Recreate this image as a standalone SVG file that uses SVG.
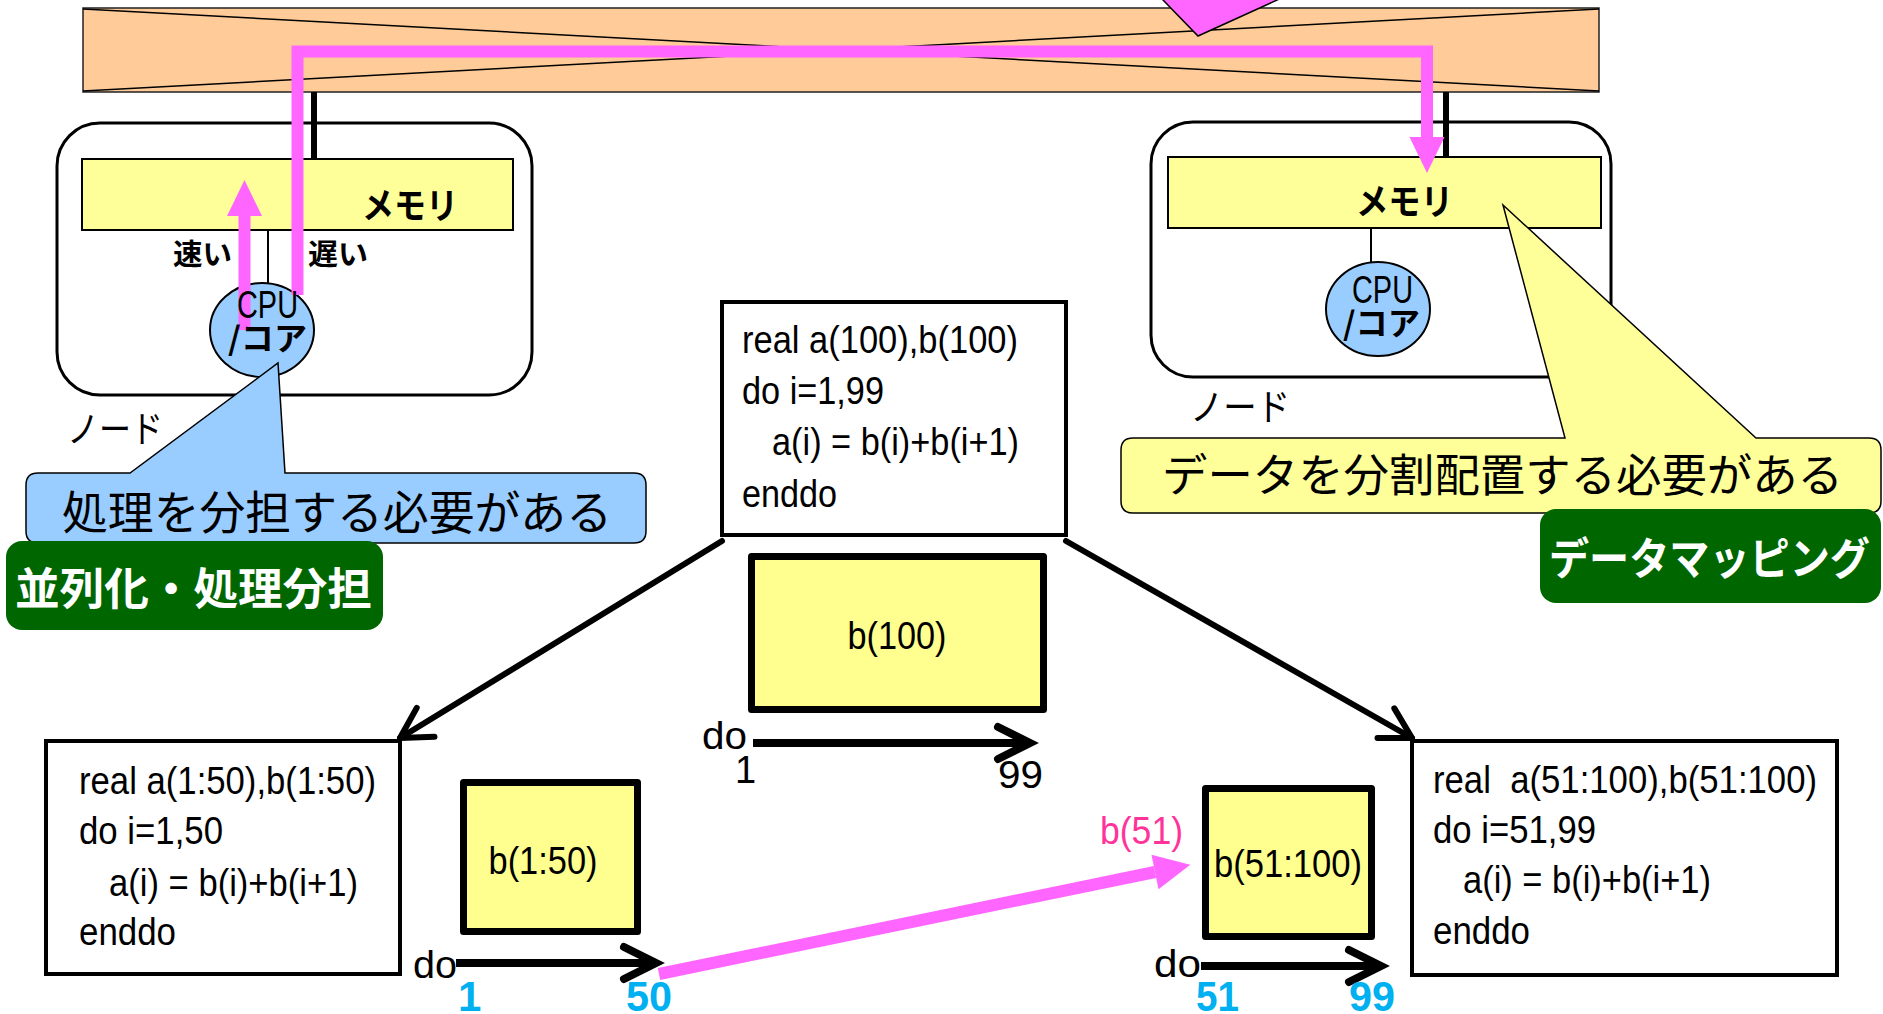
<svg xmlns="http://www.w3.org/2000/svg" width="1883" height="1014" viewBox="0 0 1883 1014">
  <style>
    .jp { font-family: "Noto Sans CJK JP", "Noto Sans", sans-serif; fill: #000; }
    .jpb { font-family: "Noto Sans CJK JP", "Noto Sans", sans-serif; font-weight: bold; fill: #000; }
    .code { font-family: "Liberation Sans", Arial, sans-serif; font-size: 38px; fill: #000; white-space: pre; }
    .num { font-family: "Liberation Sans", Arial, sans-serif; font-size: 42px; font-weight: bold; fill: #00B0F0; }
    .node { fill: #fff; stroke: #000; stroke-width: 3; }
    .mem { fill: #FFFF99; stroke: #000; stroke-width: 2; }
    .cpu { fill: #99CCFF; stroke: #000; stroke-width: 2; }
    .codebox { fill: #fff; stroke: #000; stroke-width: 4; }
    .arr { fill: #FFFF8F; stroke: #000; stroke-width: 7; stroke-linejoin: round; }
    .pink { fill: none; stroke: #FF66FF; stroke-width: 12; }
    .conn { fill: none; stroke: #000; stroke-width: 6; stroke-linecap: round; }
    .doline { fill: none; stroke: #000; stroke-width: 8; }
    .tag { fill: #006600; }
    .tagtext { font-family: "Noto Sans CJK JP", sans-serif; font-weight: bold; fill: #fff; }
  </style>
  <defs>
    <marker id="chev" markerUnits="userSpaceOnUse" orient="auto" refX="0" refY="0" markerWidth="60" markerHeight="60" viewBox="-40 -30 50 60" overflow="visible">
      <path d="M-30,-17 L0,0 L-30,17" fill="none" stroke="#000" stroke-width="6" stroke-linecap="round" stroke-linejoin="round"/>
    </marker>
    <marker id="chevDo" markerUnits="userSpaceOnUse" orient="auto" refX="0" refY="0" markerWidth="60" markerHeight="60" viewBox="-40 -30 50 60" overflow="visible">
      <path d="M-32,-16 L0,0 L-32,16" fill="none" stroke="#000" stroke-width="8" stroke-linecap="round" stroke-linejoin="miter"/>
    </marker>
    <marker id="pinkHead" markerUnits="userSpaceOnUse" orient="auto" refX="0" refY="0" markerWidth="60" markerHeight="60" viewBox="-5 -30 50 60" overflow="visible">
      <path d="M0,-17.5 L36,0 L0,17.5 Z" fill="#FF66FF"/>
    </marker>
  </defs>

  <!-- interconnect bar -->
  <g id="network">
    <rect x="83" y="8" width="1516" height="84" fill="#FFCC99" stroke="#222" stroke-width="1.5"/>
    <line x1="83" y1="9" x2="1599" y2="91" stroke="#000" stroke-width="1.5"/>
    <line x1="83" y1="91" x2="1599" y2="9" stroke="#000" stroke-width="1.5"/>
    <polygon points="1143.6,-20 1198,36 1321,-20" fill="#FF66FF" stroke="#000" stroke-width="1.5"/>
  </g>

  <!-- left node -->
  <g id="node-left">
    <rect class="node" x="57" y="123" width="475" height="272" rx="43"/>
    <rect class="mem" x="82" y="159" width="431" height="71"/>
    <text class="jpb" x="362" y="219" font-size="36" textLength="96" lengthAdjust="spacingAndGlyphs">メモリ</text>
    <line x1="268" y1="230" x2="268" y2="284" stroke="#000" stroke-width="2"/>
    <ellipse class="cpu" cx="262" cy="330" rx="52" ry="47"/>
    <text class="jpb" x="173" y="265" font-size="29" textLength="59" lengthAdjust="spacingAndGlyphs">速い</text>
    <text class="jpb" x="308" y="265" font-size="29" textLength="60" lengthAdjust="spacingAndGlyphs">遅い</text>
    <text class="jp" x="67" y="443" font-size="37" textLength="96" lengthAdjust="spacingAndGlyphs">ノード</text>
  </g>

  <!-- right node -->
  <g id="node-right">
    <rect class="node" x="1151" y="122" width="460" height="255" rx="42"/>
    <rect class="mem" x="1168" y="157" width="433" height="71"/>
    <text class="jpb" x="1356" y="215" font-size="36" textLength="97" lengthAdjust="spacingAndGlyphs">メモリ</text>
    <line x1="1371" y1="228" x2="1371" y2="263" stroke="#000" stroke-width="2"/>
    <ellipse class="cpu" cx="1378" cy="309" rx="52" ry="47"/>
    <text class="code" x="1352" y="303" font-size="34" textLength="61" lengthAdjust="spacingAndGlyphs">CPU</text>
    <text class="jpb" x="1343" y="335" font-size="32" textLength="77" lengthAdjust="spacingAndGlyphs">/コア</text>
    <text class="jp" x="1190" y="421" font-size="37" textLength="100" lengthAdjust="spacingAndGlyphs">ノード</text>
  </g>

  <!-- links: bar to memories, memory access paths, program split -->
  <g id="connectors">
    <line x1="314" y1="92" x2="314" y2="159" stroke="#000" stroke-width="6"/>
    <line x1="1446" y1="92" x2="1446" y2="157" stroke="#000" stroke-width="6"/>
    <path class="pink" d="M244.5,330 V216" marker-end="url(#pinkHead)"/>
    <path class="pink" d="M297.5,295 V51.5 H1427 V137" marker-end="url(#pinkHead)"/>
    <line class="conn" x1="722" y1="541" x2="400" y2="738" marker-end="url(#chev)"/>
    <line class="conn" x1="1066" y1="541" x2="1412" y2="738" marker-end="url(#chev)"/>
    <path class="pink" d="M659,974 L1155,872" marker-end="url(#pinkHead)"/>
  </g>

  <!-- CPU label on the left core, drawn above the access arrows -->
  <g id="cpu-left-label">
    <text class="code" x="237" y="318" font-size="34" textLength="61" lengthAdjust="spacingAndGlyphs">CPU</text>
    <text class="jpb" x="228" y="350" font-size="32" textLength="79" lengthAdjust="spacingAndGlyphs">/コア</text>
  </g>

  <!-- callouts -->
  <g id="callout-process">
    <path d="M38,473 H130 L278,363 L285,473 H634 Q646,473 646,485 V531 Q646,543 634,543 H38 Q26,543 26,531 V485 Q26,473 38,473 Z" fill="#99CCFF" stroke="#000" stroke-width="1.5"/>
    <text class="jp" x="62" y="529" font-size="46" textLength="550" lengthAdjust="spacingAndGlyphs">処理を分担する必要がある</text>
  </g>
  <g id="tag-parallel">
    <rect class="tag" x="6" y="541" width="377" height="89" rx="16"/>
    <text class="tagtext" x="15" y="605" font-size="44" textLength="357" lengthAdjust="spacingAndGlyphs">並列化・処理分担</text>
  </g>

  <g id="callout-data">
    <path d="M1133,438 H1565 L1503,205 L1756,438 H1869 Q1881,438 1881,450 V501 Q1881,513 1869,513 H1133 Q1121,513 1121,501 V450 Q1121,438 1133,438 Z" fill="#FFFF99" stroke="#000" stroke-width="1.5"/>
    <text class="jp" x="1162" y="492" font-size="45" textLength="681" lengthAdjust="spacingAndGlyphs">データを分割配置する必要がある</text>
  </g>
  <g id="tag-mapping">
    <rect class="tag" x="1540" y="509" width="341" height="94" rx="16"/>
    <text class="tagtext" x="1549" y="575" font-size="44" textLength="321" lengthAdjust="spacingAndGlyphs">データマッピング</text>
  </g>

  <!-- serial program -->
  <g id="code-serial">
    <rect class="codebox" x="722" y="302" width="344" height="233"/>
    <text class="code" x="742" y="353" textLength="276" lengthAdjust="spacingAndGlyphs">real a(100),b(100)</text>
    <text class="code" x="742" y="404" textLength="142" lengthAdjust="spacingAndGlyphs">do i=1,99</text>
    <text class="code" x="772" y="455" textLength="247" lengthAdjust="spacingAndGlyphs">a(i) = b(i)+b(i+1)</text>
    <text class="code" x="742" y="507" textLength="95" lengthAdjust="spacingAndGlyphs">enddo</text>
  </g>
  <g id="array-b100">
    <rect class="arr" x="751.5" y="556.5" width="292" height="153"/>
    <text class="code" x="897" y="649" font-size="40" text-anchor="middle" textLength="99" lengthAdjust="spacingAndGlyphs">b(100)</text>
  </g>
  <g id="loop-serial">
    <line class="doline" x1="753" y1="743" x2="1030" y2="743" marker-end="url(#chevDo)"/>
    <text class="code" x="702" y="749" textLength="45" lengthAdjust="spacingAndGlyphs">do</text>
    <text class="code" x="735" y="783">1</text>
    <text class="code" x="998" y="788" textLength="45" lengthAdjust="spacingAndGlyphs">99</text>
  </g>

  <!-- left partition -->
  <g id="code-left">
    <rect class="codebox" x="46" y="741" width="354" height="233" stroke-width="3.5"/>
    <text class="code" x="79" y="794" textLength="297" lengthAdjust="spacingAndGlyphs">real a(1:50),b(1:50)</text>
    <text class="code" x="79" y="844" textLength="144" lengthAdjust="spacingAndGlyphs">do i=1,50</text>
    <text class="code" x="109" y="896" textLength="249" lengthAdjust="spacingAndGlyphs">a(i) = b(i)+b(i+1)</text>
    <text class="code" x="79" y="945" textLength="97" lengthAdjust="spacingAndGlyphs">enddo</text>
  </g>
  <g id="array-b1-50">
    <rect class="arr" x="463.5" y="782.5" width="174" height="149"/>
    <text class="code" x="543" y="874" font-size="40" text-anchor="middle" textLength="109" lengthAdjust="spacingAndGlyphs">b(1:50)</text>
  </g>
  <g id="loop-left">
    <line class="doline" x1="456" y1="963" x2="656" y2="963" marker-end="url(#chevDo)"/>
    <text class="code" x="413" y="978" textLength="44" lengthAdjust="spacingAndGlyphs">do</text>
    <text class="num" x="458" y="1011">1</text>
    <text class="num" x="626" y="1011" textLength="46" lengthAdjust="spacingAndGlyphs">50</text>
  </g>

  <!-- right partition -->
  <g id="code-right">
    <rect class="codebox" x="1412" y="741" width="425" height="234" stroke-width="3.5"/>
    <text class="code" x="1433" y="793" textLength="384" lengthAdjust="spacingAndGlyphs">real  a(51:100),b(51:100)</text>
    <text class="code" x="1433" y="843" textLength="163" lengthAdjust="spacingAndGlyphs">do i=51,99</text>
    <text class="code" x="1463" y="893" textLength="248" lengthAdjust="spacingAndGlyphs">a(i) = b(i)+b(i+1)</text>
    <text class="code" x="1433" y="944" textLength="97" lengthAdjust="spacingAndGlyphs">enddo</text>
  </g>
  <g id="array-b51-100">
    <rect class="arr" x="1205.5" y="788.5" width="166" height="148"/>
    <text class="code" x="1288" y="877" font-size="40" text-anchor="middle" textLength="148" lengthAdjust="spacingAndGlyphs">b(51:100)</text>
  </g>
  <g id="loop-right">
    <line class="doline" x1="1201" y1="966" x2="1381" y2="966" marker-end="url(#chevDo)"/>
    <text class="code" x="1154" y="977" textLength="47" lengthAdjust="spacingAndGlyphs">do</text>
    <text class="num" x="1196" y="1011" textLength="43" lengthAdjust="spacingAndGlyphs">51</text>
    <text class="num" x="1349" y="1011" textLength="46" lengthAdjust="spacingAndGlyphs">99</text>
  </g>

  <text id="label-b51" class="code" x="1100" y="844" style="fill:#FF3399" textLength="83" lengthAdjust="spacingAndGlyphs">b(51)</text>
</svg>
